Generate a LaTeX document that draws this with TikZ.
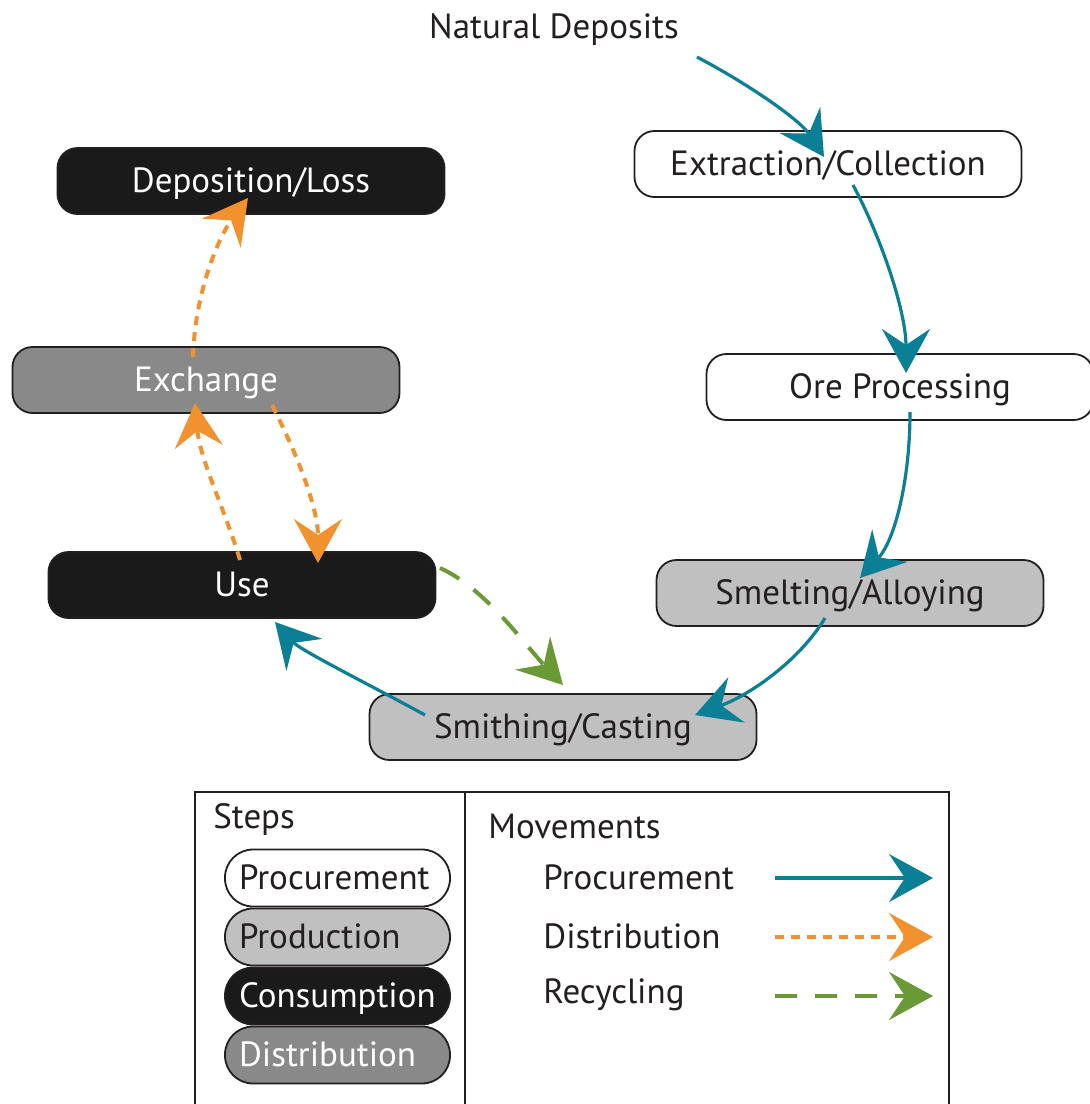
\documentclass[tikz,border=0pt]{standalone}
\usepackage{fontspec}
\setmainfont{PT Sans}
\usepackage{tikz}
\usetikzlibrary{arrows.meta,calc}
\definecolor{procblue}{HTML}{0A7F95}
\definecolor{distorange}{HTML}{F2922F}
\definecolor{recygreen}{HTML}{6A9A35}
\definecolor{prodgray}{HTML}{C0C0C0}
\definecolor{distgray}{HTML}{888988}
\definecolor{consblack}{HTML}{1A1A1A}
\definecolor{ink}{HTML}{231F20}

\begin{document}
\begin{tikzpicture}[
  x=0.5pt, y=-0.5pt,
  font=\fontsize{17.5}{21}\selectfont,
  stepbox/.style={draw=ink, line width=0.9pt, rounded corners=10pt,
    minimum width=193.5pt, minimum height=33pt, inner sep=0pt, text depth=1pt},
  procbox/.style={stepbox, fill=white, text=ink},
  prodbox/.style={stepbox, fill=prodgray, text=ink},
  consbox/.style={stepbox, fill=consblack, text=white},
  distbox/.style={stepbox, fill=distgray, text=white},
  keybox/.style={rounded corners=14pt, minimum width=0pt, minimum height=28.5pt,
    inner xsep=7pt, text width=98.5pt, align=left},
  flow/.style={-{Stealth[length=22pt, width=24pt, inset=8pt]}},
  procflow/.style={flow, draw=procblue, line width=1.6pt},
  distflow/.style={flow, draw=distorange, line width=2pt, dash pattern=on 4.5pt off 3.5pt},
  recyflow/.style={flow, draw=recygreen, line width=2pt, dash pattern=on 11pt off 9pt},
]
  \useasboundingbox (0,0) rectangle (1090,1104);

  % steps
  \node[text=ink] (nat) at (554,30) {Natural Deposits};
  \node[procbox] (ext) at (828,164) {Extraction/Collection};
  \node[procbox] (ore) at (900,387) {Ore Processing};
  \node[prodbox] (smelt) at (850,593) {Smelting/Alloying};
  \node[prodbox] (smith) at (563,727) {Smithing/Casting};
  \node[consbox] (use) at (242,585) {Use};
  \node[distbox] (exch) at (206,380) {Exchange};
  \node[consbox] (dep) at (251,181) {Deposition/Loss};

  % movements
  \coordinate (natout) at (697,57);
  \draw[procflow] (natout) .. controls (750,85) and (800,120) .. ($(ext.center)+(-4,-7)$);
  \draw[procflow] ($(ext.center)+(25,21)$) .. controls (880,235) and (906,310) .. ($(ore.center)+(6,-14)$);
  \draw[procflow] ($(ore.center)+(10,25)$) .. controls (910,480) and (895,540) .. ($(smelt.center)+(10,-15)$);
  \draw[procflow] ($(smelt.center)+(-25,25)$) .. controls (800,660) and (750,695) .. ($(smith.center)+(132,-12)$);
  \draw[procflow] ($(smith.center)+(-138,-12)$) .. controls (370,685) and (300,650) .. ($(use.center)+(33,37)$);
  \draw[recyflow] ($(use.center)+(198,-17)$) .. controls (485,588) and (525,645) .. ($(smith.center)+(0,-42)$);
  \draw[distflow] ($(use.center)+(-2,-25)$) .. controls (225,510) and (200,460) .. ($(exch.center)+(-11,23)$);
  \draw[distflow] ($(exch.center)+(66,25)$) .. controls (300,460) and (318,510) .. ($(use.center)+(76,-22)$);
  \draw[distflow] ($(exch.center)+(-13,-23)$) .. controls (195,290) and (220,235) .. ($(dep.center)+(-3,17)$);

  % legend
  \draw[ink, line width=1pt] (195,792) rectangle (949,1130);
  \draw[ink, line width=1pt] (465,792) -- (465,1130);
  \node[anchor=west, inner sep=0pt, text=ink] (steps) at (213,820) {Steps};
  \node[anchor=west, inner sep=0pt, text=ink] (moves) at (488,826) {Movements};
  \node[procbox, keybox] (kproc) at (337.5,878) {Procurement};
  \node[prodbox, keybox] (kprod) at (337.5,937) {Production};
  \node[consbox, keybox] (kcons) at (337.5,996) {Consumption};
  \node[distbox, keybox] (kdist) at (337.5,1055) {Distribution};
  \node[anchor=west, inner sep=0pt, text=ink] (lproc) at (543,877) {Procurement};
  \node[anchor=west, inner sep=0pt, text=ink] (ldist) at (543,936) {Distribution};
  \node[anchor=west, inner sep=0pt, text=ink] (lrecy) at (543,995) {Recycling};
  \coordinate (aproc) at (775,878);
  \coordinate (adist) at (775,937);
  \coordinate (arecy) at (775,996);
  \draw[procflow] (aproc) -- ++(158,0);
  \draw[distflow] (adist) -- ++(158,0);
  \draw[recyflow] (arecy) -- ++(158,0);
\end{tikzpicture}
\end{document}
